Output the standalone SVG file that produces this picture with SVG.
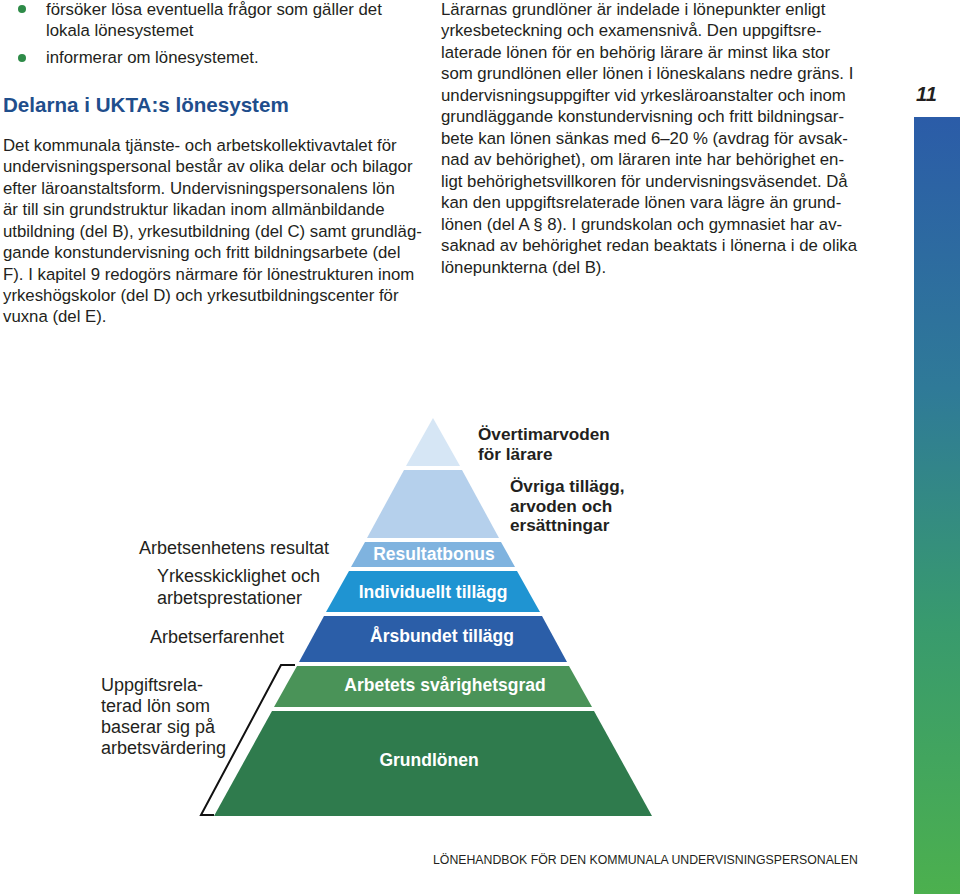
<svg xmlns="http://www.w3.org/2000/svg" width="960" height="894" viewBox="0 0 960 894">
<style>
text{font-family:"Liberation Sans",Arial,sans-serif;}
.body{font-size:16.8px;fill:#231f20;}
.head{font-size:20.6px;font-weight:bold;fill:#1f4e8c;}
.lbl{font-size:18px;fill:#231f20;}
.rlbl{font-size:17.2px;font-weight:bold;fill:#231f20;}
.pl{font-size:17.5px;font-weight:bold;fill:#ffffff;text-anchor:middle;}
.foot{font-size:12.3px;fill:#231f20;}
</style>
<defs>
<linearGradient id="bar" x1="0" y1="0" x2="0" y2="1">
<stop offset="0" stop-color="#2b5ca8"/>
<stop offset="0.35" stop-color="#2f7a98"/>
<stop offset="0.65" stop-color="#389a6e"/>
<stop offset="1" stop-color="#4cb04e"/>
</linearGradient>
</defs>
<rect width="960" height="894" fill="#ffffff"/>
<g id="bullets">
<circle cx="22" cy="9" r="4" fill="#2e8b48"/>
<circle cx="22" cy="58" r="4" fill="#2e8b48"/>
<text class="body" x="46" y="15">försöker lösa eventuella frågor som gäller det</text>
<text class="body" x="46" y="36">lokala lönesystemet</text>
<text class="body" x="46" y="63">informerar om lönesystemet.</text>
</g>
<g id="left-column">
<text class="head" x="3" y="112">Delarna i UKTA:s lönesystem</text>
<text class="body" x="3" y="151">Det kommunala tjänste- och arbetskollektivavtalet för</text>
<text class="body" x="3" y="172">undervisningspersonal består av olika delar och bilagor</text>
<text class="body" x="3" y="194">efter läroanstaltsform. Undervisningspersonalens lön</text>
<text class="body" x="3" y="215">är till sin grundstruktur likadan inom allmänbildande</text>
<text class="body" x="3" y="237">utbildning (del B), yrkesutbildning (del C) samt grundläg-</text>
<text class="body" x="3" y="258">gande konstundervisning och fritt bildningsarbete (del</text>
<text class="body" x="3" y="280">F). I kapitel 9 redogörs närmare för lönestrukturen inom</text>
<text class="body" x="3" y="301">yrkeshögskolor (del D) och yrkesutbildningscenter för</text>
<text class="body" x="3" y="322">vuxna (del E).</text>
</g>
<g id="right-column">
<text class="body" x="441" y="15">Lärarnas grundlöner är indelade i lönepunkter enligt</text>
<text class="body" x="441" y="36">yrkesbeteckning och examensnivå.  Den uppgiftsre-</text>
<text class="body" x="441" y="58">laterade lönen för en behörig lärare är minst lika stor</text>
<text class="body" x="441" y="79">som grundlönen eller lönen i löneskalans nedre gräns. I</text>
<text class="body" x="441" y="101">undervisningsuppgifter vid yrkesläroanstalter och inom</text>
<text class="body" x="441" y="122">grundläggande konstundervisning och fritt bildningsar-</text>
<text class="body" x="441" y="144">bete kan lönen sänkas med 6–20 % (avdrag för avsak-</text>
<text class="body" x="441" y="165">nad av behörighet), om läraren inte har behörighet en-</text>
<text class="body" x="441" y="187">ligt behörighetsvillkoren för undervisningsväsendet. Då</text>
<text class="body" x="441" y="208">kan den uppgiftsrelaterade lönen vara lägre än grund-</text>
<text class="body" x="441" y="230">lönen (del A § 8). I grundskolan och gymnasiet har av-</text>
<text class="body" x="441" y="251">saknad av behörighet redan beaktats i lönerna i de olika</text>
<text class="body" x="441" y="273">lönepunkterna (del B).</text>
</g>
<g id="page-number">
<text x="916" y="101" font-size="20" font-weight="bold" font-style="italic" fill="#231f20">11</text>
</g>
<rect id="side-bar" x="914" y="117" width="46" height="777" fill="url(#bar)"/>
<g id="pyramid">
<g id="layer-overtid"><polygon points="433,418 460,466 406,466" fill="#d6e6f5"/></g>
<g id="layer-ovriga"><polygon points="404,470 462,470 499,538 367,538" fill="#b5d0ec"/></g>
<g id="layer-resultatbonus"><polygon points="365,542 501,542 515,567 351,567" fill="#7fb3df"/><text class="pl" x="434" y="560">Resultatbonus</text></g>
<g id="layer-individuellt"><polygon points="349,571 517,571 540,612 326,612" fill="#1f94d2"/><text class="pl" x="433" y="598">Individuellt tillägg</text></g>
<g id="layer-arsbundet"><polygon points="324,616 542,616 567,662 299,662" fill="#2b5ea8"/><text class="pl" x="442" y="642">Årsbundet tillägg</text></g>
<g id="layer-svarighetsgrad"><polygon points="297,666 569,666 592,707 274,707" fill="#4a9358"/><text class="pl" x="445" y="691">Arbetets svårighetsgrad</text></g>
<g id="layer-grundlonen"><polygon points="272,711 594,711 652,816 214,816" fill="#2f7b4d"/><text class="pl" x="429" y="766">Grundlönen</text></g>
</g>
<g id="right-labels">
<text class="rlbl" x="478" y="440">Övertimarvoden</text>
<text class="rlbl" x="478" y="460">för lärare</text>
<text class="rlbl" x="510" y="492">Övriga tillägg,</text>
<text class="rlbl" x="510" y="512">arvoden och</text>
<text class="rlbl" x="510" y="531">ersättningar</text>
</g>
<g id="left-labels">
<text class="lbl" x="139" y="554">Arbetsenhetens resultat</text>
<text class="lbl" x="157" y="582">Yrkesskicklighet och</text>
<text class="lbl" x="157" y="604">arbetsprestationer</text>
<text class="lbl" x="150" y="643">Arbetserfarenhet</text>
<text class="lbl" x="101" y="691">Uppgiftsrela-</text>
<text class="lbl" x="101" y="712">terad lön som</text>
<text class="lbl" x="101" y="733">baserar sig på</text>
<text class="lbl" x="101" y="754">arbetsvärdering</text>
</g>
<g id="connectors">
<polyline points="295,665 281,665 201,815 214,815" fill="none" stroke="#111" stroke-width="2"/>
</g>
<g id="footer">
<text class="foot" x="433" y="864">LÖNEHANDBOK FÖR DEN KOMMUNALA UNDERVISNINGSPERSONALEN</text>
</g>
</svg>
